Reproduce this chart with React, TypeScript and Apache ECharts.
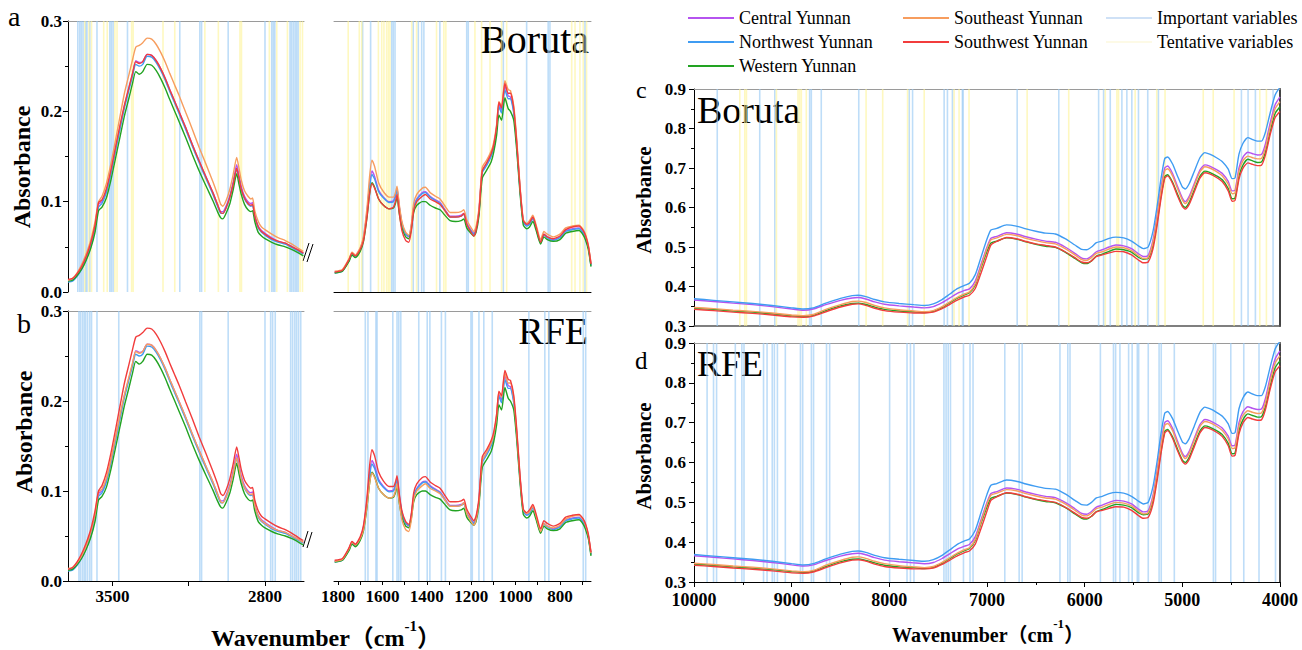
import React, { useEffect, useRef } from "react";
import * as echarts from "echarts";

// ---------- Wavenumber grids (cm-1) ----------
const WAVE_MIR_HIGH = [3704, 3683, 3663, 3642, 3621, 3600, 3580, 3564, 3548, 3528,
  3507, 3486, 3465, 3445, 3424, 3408, 3393, 3377, 3361, 3341,
  3320, 3299, 3278, 3257, 3237, 3216, 3195, 3164, 3133, 3102,
  3070, 3039, 3018, 3003, 2993, 2977, 2961, 2946, 2930, 2920,
  2909, 2894, 2878, 2865, 2857, 2847, 2831, 2816, 2800, 2769,
  2738, 2707, 2676, 2645, 2624];

const WAVE_MIR_LOW = [1815, 1780, 1750, 1737, 1722, 1700, 1685, 1669, 1658, 1647,
  1635, 1617, 1595, 1570, 1550, 1540, 1534, 1524, 1512, 1495,
  1481, 1470, 1459, 1445, 1420, 1406, 1385, 1361, 1340, 1315,
  1295, 1270, 1245, 1233, 1220, 1205, 1188, 1178, 1165, 1150,
  1130, 1110, 1098, 1085, 1075, 1063, 1048, 1033, 1023, 1008,
  995, 980, 965, 950, 937, 922, 907, 887, 872, 857,
  830, 800, 774, 744, 714, 695, 684, 672, 660];

const WAVE_NIR = [10000, 9800, 9600, 9400, 9200, 9000,
  8880, 8780, 8650, 8500,
  8380, 8320, 8250, 8150, 8050,
  7900, 7750, 7640, 7550, 7460,
  7380, 7300, 7230, 7180, 7120,
  7060, 7000, 6960, 6900, 6800,
  6700, 6600, 6500, 6400, 6300,
  6200, 6100, 6030, 5980, 5930,
  5880, 5820, 5750, 5680, 5600,
  5520, 5450, 5400, 5350, 5300,
  5260, 5220, 5180, 5150, 5100,
  5050, 5000, 4970, 4930, 4880,
  4820, 4770, 4720, 4650, 4590,
  4530, 4490, 4460, 4420, 4380,
  4330, 4280, 4230, 4190, 4150,
  4100, 4050, 4000];

// ---------- MIR 3700-2620 absorbance ----------
const CENTRAL_MIR_HIGH = [.013, .014, .019, .027, .038, .052, .072, .097, .100, .112,
  .133, .158, .183, .206, .226, .241, .256, .254, .255, .263,
  .262, .256, .247, .236, .224, .212, .200, .182, .163, .145,
  .127, .110, .097, .089, .089, .096, .107, .122, .141, .130,
  .117, .106, .100, .098, .099, .085, .073, .068, .065, .060,
  .056, .054, .050, .046, .043];
const NORTHWEST_MIR_HIGH = [.011, .012, .017, .025, .036, .050, .070, .094, .098, .110,
  .131, .156, .181, .204, .224, .239, .252, .250, .252, .261,
  .260, .254, .245, .234, .222, .210, .198, .180, .161, .143,
  .125, .108, .095, .087, .087, .094, .105, .119, .136, .126,
  .113, .103, .097, .095, .096, .083, .071, .066, .063, .058,
  .055, .053, .049, .045, .042];
const WESTERN_MIR_HIGH = [.012, .013, .018, .025, .035, .048, .066, .090, .094, .104,
  .124, .148, .172, .195, .215, .231, .244, .241, .244, .252,
  .251, .245, .236, .225, .213, .201, .189, .171, .152, .134,
  .117, .101, .089, .082, .081, .088, .098, .113, .131, .120,
  .108, .097, .091, .089, .090, .078, .066, .062, .059, .055,
  .052, .050, .047, .043, .040];
const SOUTHEAST_MIR_HIGH = [.013, .015, .021, .030, .042, .057, .078, .100, .106, .120,
  .142, .168, .195, .220, .241, .257, .271, .273, .276, .281,
  .280, .274, .265, .254, .242, .230, .218, .199, .180, .160,
  .141, .122, .108, .097, .095, .102, .114, .130, .149, .138,
  .124, .112, .106, .103, .104, .090, .078, .072, .069, .064,
  .060, .057, .053, .048, .045];
const SOUTHWEST_MIR_HIGH = [.014, .015, .020, .028, .039, .054, .074, .099, .102, .114,
  .135, .160, .185, .207, .227, .242, .255, .253, .255, .263,
  .262, .256, .247, .236, .224, .212, .200, .182, .163, .145,
  .127, .110, .097, .088, .087, .094, .105, .119, .137, .127,
  .114, .104, .098, .096, .097, .084, .072, .067, .064, .059,
  .056, .054, .050, .046, .043];

// ---------- MIR 1815-660 absorbance ----------
const CENTRAL_MIR_LOW = [.022, .024, .036, .043, .040, .048, .060, .090, .118, .134,
  .128, .113, .105, .100, .101, .108, .115, .095, .076, .064,
  .061, .072, .094, .103, .110, .111, .106, .102, .099, .090,
  .084, .084, .085, .087, .076, .070, .065, .070, .089, .134,
  .142, .152, .162, .182, .208, .201, .228, .217, .216, .200,
  .165, .115, .078, .074, .076, .082, .071, .055, .064, .061,
  .058, .061, .068, .070, .071, .066, .060, .050, .030];
const NORTHWEST_MIR_LOW = [.021, .023, .035, .042, .039, .047, .059, .088, .115, .130,
  .125, .111, .104, .099, .100, .107, .113, .094, .076, .064,
  .062, .072, .093, .102, .109, .110, .105, .101, .098, .089,
  .083, .083, .084, .086, .075, .069, .064, .069, .088, .132,
  .140, .150, .160, .180, .205, .198, .224, .214, .214, .198,
  .163, .113, .077, .073, .075, .081, .070, .054, .063, .060,
  .057, .060, .067, .069, .070, .065, .059, .049, .029];
const WESTERN_MIR_LOW = [.021, .023, .034, .041, .038, .045, .056, .083, .108, .121,
  .116, .103, .096, .092, .093, .099, .105, .087, .071, .061,
  .059, .069, .088, .096, .100, .100, .096, .093, .091, .084,
  .079, .078, .079, .081, .071, .066, .062, .066, .084, .126,
  .135, .144, .155, .174, .196, .190, .215, .203, .200, .190,
  .158, .110, .074, .070, .072, .078, .068, .053, .061, .058,
  .056, .058, .065, .067, .068, .063, .057, .047, .028];
const SOUTHEAST_MIR_LOW = [.023, .025, .037, .044, .041, .049, .062, .094, .127, .146,
  .139, .121, .111, .105, .105, .111, .117, .097, .078, .066,
  .063, .074, .098, .108, .115, .116, .110, .106, .103, .094,
  .088, .088, .089, .091, .080, .073, .067, .072, .092, .138,
  .146, .156, .166, .186, .211, .206, .234, .224, .223, .206,
  .170, .118, .080, .076, .079, .085, .074, .058, .067, .064,
  .061, .064, .071, .073, .074, .069, .063, .052, .032];
const SOUTHWEST_MIR_LOW = [.022, .024, .036, .043, .040, .047, .057, .084, .108, .120,
  .115, .103, .096, .092, .094, .101, .108, .088, .068, .057,
  .055, .067, .090, .100, .106, .108, .103, .100, .097, .089,
  .083, .083, .084, .087, .075, .068, .062, .068, .088, .134,
  .143, .153, .163, .184, .210, .204, .231, .220, .220, .203,
  .167, .116, .079, .075, .077, .083, .072, .055, .064, .061,
  .059, .062, .069, .072, .073, .068, .062, .051, .031];

// ---------- NIR 10000-4000 absorbance ----------
const CENTRAL_NIR = [.366, .362, .358, .354, .349, .343,
  .340, .343, .354, .365,
  .371, .372, .369, .361, .355,
  .351, .348, .346, .349, .359,
  .371, .383, .390, .394, .414,
  .457, .500, .522, .527, .536,
  .533, .526, .520, .515, .512,
  .500, .484, .472, .470, .477,
  .488, .493, .500, .505, .503,
  .496, .483, .476, .479, .518,
  .578, .647, .700, .705, .686,
  .654, .624, .615, .628, .659,
  .695, .708, .705, .696, .686,
  .666, .642, .644, .700, .727,
  .740, .736, .733, .734, .760,
  .815, .860, .880];
const NORTHWEST_NIR = [.369, .365, .361, .357, .352, .346,
  .343, .346, .358, .370,
  .377, .378, .375, .367, .361,
  .357, .354, .352, .356, .367,
  .381, .395, .403, .408, .430,
  .475, .520, .543, .547, .556,
  .553, .546, .540, .535, .533,
  .521, .505, .494, .493, .500,
  .511, .515, .522, .525, .523,
  .515, .503, .496, .500, .540,
  .600, .670, .724, .728, .710,
  .680, .652, .647, .660, .690,
  .726, .739, .735, .726, .716,
  .697, .673, .675, .735, .762,
  .777, .772, .768, .768, .790,
  .840, .885, .905];
const WESTERN_NIR = [.345, .342, .338, .335, .331, .326,
  .324, .327, .339, .351,
  .357, .358, .355, .348, .342,
  .338, .336, .334, .337, .347,
  .359, .371, .379, .384, .404,
  .448, .489, .510, .515, .523,
  .520, .513, .507, .502, .499,
  .487, .471, .460, .458, .465,
  .477, .482, .489, .495, .493,
  .487, .474, .469, .471, .505,
  .560, .627, .678, .683, .664,
  .634, .606, .600, .613, .643,
  .679, .692, .689, .680, .670,
  .648, .622, .624, .680, .707,
  .722, .718, .714, .715, .740,
  .793, .838, .855];
const SOUTHEAST_NIR = [.347, .344, .340, .337, .333, .328,
  .326, .329, .342, .354,
  .362, .363, .360, .352, .346,
  .341, .338, .336, .339, .349,
  .361, .373, .381, .386, .407,
  .452, .496, .518, .523, .532,
  .529, .522, .516, .511, .508,
  .496, .480, .468, .466, .473,
  .484, .488, .495, .500, .498,
  .491, .478, .471, .474, .512,
  .571, .640, .693, .698, .680,
  .648, .619, .610, .623, .654,
  .690, .703, .700, .691, .680,
  .659, .635, .637, .692, .718,
  .730, .726, .723, .724, .750,
  .805, .850, .868];
const SOUTHWEST_NIR = [.342, .339, .335, .332, .328, .323,
  .322, .325, .336, .348,
  .355, .356, .353, .345, .339,
  .335, .333, .333, .335, .344,
  .355, .366, .374, .378, .395,
  .435, .478, .505, .514, .524,
  .521, .514, .508, .504, .500,
  .488, .473, .462, .460, .465,
  .476, .480, .485, .489, .488,
  .480, .467, .460, .462, .496,
  .552, .620, .674, .680, .661,
  .630, .603, .596, .608, .638,
  .674, .688, .685, .676, .665,
  .642, .616, .618, .672, .699,
  .713, .709, .706, .707, .732,
  .785, .828, .843];

// ---------- Selected variables (cm-1) ----------
const BORUTA_IMPORTANT_MIR_HIGH = [3659, 3650, 3643, 3635, 3623, 3617, 3604, 3571, 3512, 3505, 3497, 3431, 3191, 3099, 3091, 2969, 2800, 2769, 2762, 2755, 2685, 2678, 2670, 2662, 2655, 2648];
const BORUTA_TENTATIVE_MIR_HIGH = [3627, 3608, 3596, 3540, 3524, 3489, 3479, 3412, 3405, 3268, 3214, 3076, 3014, 2915, 2908, 2780, 2746, 2697, 2639, 2628];
const BORUTA_IMPORTANT_MIR_LOW = [1689, 1653, 1558, 1551, 1543, 1461, 1438, 1423, 1413, 1341, 1220, 1213, 1055, 950, 853, 845, 687];
const BORUTA_TENTATIVE_MIR_LOW = [1754, 1704, 1693, 1618, 1603, 1593, 1581, 1573, 1566, 1468, 1446, 1356, 1323, 1314, 1183, 1153, 1115, 1063, 1040, 747, 732, 710, 695, 680];
const RFE_IMPORTANT_MIR_HIGH = [3654, 3647, 3638, 3630, 3623, 3614, 3604, 3596, 3571, 3471, 3099, 3091, 2969, 2800, 2774, 2765, 2753, 2682, 2673, 2663, 2655, 2646, 2636];
const RFE_IMPORTANT_MIR_LOW = [1677, 1665, 1629, 1624, 1553, 1534, 1526, 1517, 1436, 1398, 1386, 1334, 1316, 1201, 1195, 1165, 1143, 1105, 940, 868, 850, 695, 684];
const BORUTA_IMPORTANT_NIR = [9762, 9327, 9173, 8816, 8799, 8697, 8313, 7796, 7762, 7439, 7405, 7354, 7252, 7245, 6691, 6265, 5857, 5806, 5738, 5619, 5568, 5517, 5449, 5354, 5245, 4395, 4327, 4252, 4071];
const BORUTA_TENTATIVE_NIR = [9531, 9480, 9463, 9156, 8935, 8918, 8901, 8850, 8238, 8068, 7813, 7643, 7337, 7286, 7184, 6589, 6163, 5789, 5670, 5653, 5483, 5262, 5177, 4786, 4684, 4470, 4207, 4139];
const RFE_IMPORTANT_NIR = [9866, 9800, 9769, 9577, 9510, 9488, 9288, 9252, 9199, 9177, 9146, 9065, 8910, 8887, 8798, 8776, 8643, 8611, 8309, 7997, 7819, 7784, 7748, 7441, 7419, 7397, 7374, 7241, 7174, 7143, 6818, 6671, 6640, 6253, 6173, 6150, 5839, 5705, 5683, 5639, 5550, 5514, 5461, 5447, 5349, 5238, 5216, 5082, 4682, 4660, 4504, 4371, 4215, 4046];

// ---------- Tick labels ----------
const X_LABELS_MIR_HIGH = [3500, 2800];
const X_TICKS_MIR_HIGH = [3500, 3150, 2800];
const X_LABELS_MIR_LOW = [1800, 1600, 1400, 1200, 1000, 800];
const X_TICKS_MIR_LOW = [1800, 1700, 1600, 1500, 1400, 1300, 1200, 1100, 1000, 900, 800, 700];

const GROUP_NAMES = ["Central Yunnan", "Northwest Yunnan", "Western Yunnan", "Southeast Yunnan", "Southwest Yunnan"];
const LEGEND_VARS = ["Important variables", "Tentative variables"];

const FONT = '"Liberation Serif", "Noto Sans CJK SC", serif';
const COLORS: Record<string, string> = {
  "Central Yunnan": "#b553ef",
  "Northwest Yunnan": "#3f9cf2",
  "Western Yunnan": "#22a322",
  "Southeast Yunnan": "#f79d5e",
  "Southwest Yunnan": "#f23c3c",
};
const IMP_COLOR = "rgba(155,203,244,0.65)";
const TEN_COLOR = "rgba(253,244,150,0.6)";

function spectra(grid: number, wave: number[], rows: [string, number[]][]) {
  return rows.map(([name, vals]) => ({
    type: "line",
    name,
    xAxisIndex: grid,
    yAxisIndex: grid,
    data: wave.map((w, i) => [w, vals[i]]),
    symbol: "none",
    smooth: 0.2,
    silent: true,
    z: 3,
    lineStyle: { width: 1.4, color: COLORS[name] },
    itemStyle: { color: COLORS[name] },
  }));
}

function varLines(name: string, grid: number, positions: number[], color: string, yMin: number, yMax: number) {
  return {
    type: "custom",
    name,
    xAxisIndex: grid,
    yAxisIndex: grid,
    silent: true,
    z: 1,
    itemStyle: { color },
    data: positions.map((p) => [p, yMin]),
    renderItem: (_params: any, api: any) => {
      const x = api.value(0);
      const top = api.coord([x, yMax]);
      const bot = api.coord([x, yMin]);
      return {
        type: "line",
        shape: { x1: top[0], y1: top[1], x2: bot[0], y2: bot[1] },
        style: { stroke: color, lineWidth: 1.6 },
      };
    },
  };
}

const AXIS_BLACK = { color: "#000", width: 1 };

function yAxisMain(grid: number, min: number, max: number, fontSize: number, margin: number) {
  return {
    gridIndex: grid,
    type: "value",
    position: "left",
    min,
    max,
    interval: 0.1,
    axisLine: { show: true, onZero: false, lineStyle: AXIS_BLACK },
    axisTick: { show: true, length: 5, lineStyle: AXIS_BLACK },
    minorTick: { show: true, splitNumber: 2, length: 3, lineStyle: AXIS_BLACK },
    axisLabel: {
      formatter: (v: number) => v.toFixed(1),
      fontFamily: FONT,
      fontWeight: "bold",
      fontSize,
      color: "#000",
      margin,
    },
    splitLine: { show: false },
    minorSplitLine: { show: false },
  };
}

function topAxis(grid: number, min: number, max: number) {
  return {
    gridIndex: grid,
    type: "value",
    position: "top",
    min,
    max,
    inverse: true,
    axisLine: { show: true, onZero: false, lineStyle: { color: "#9a9a9a", width: 1 } },
    axisTick: { show: false },
    axisLabel: { show: false },
    splitLine: { show: false },
  };
}

function wavenumberTitle(x: number, y: number, size: number, supSize: number) {
  return {
    type: "text",
    x,
    y,
    style: {
      text: "{b|Wavenumber（cm}{s|-1}{b|）}",
      fill: "#000",
      align: "center",
      verticalAlign: "middle",
      rich: {
        b: { fontFamily: FONT, fontWeight: "bold", fontSize: size, lineHeight: size + 8, verticalAlign: "bottom", fill: "#000" },
        s: { fontFamily: FONT, fontWeight: "bold", fontSize: supSize, lineHeight: supSize, verticalAlign: "top", fill: "#000" },
      },
    },
  };
}

export default function App() {
  const ref = useRef<HTMLDivElement>(null);

  useEffect(() => {
    if (!ref.current) return;
    const chart = echarts.init(ref.current, null, { renderer: "svg" });

    const highRowsA: [string, number[]][] = [
      ["Central Yunnan", CENTRAL_MIR_HIGH],
      ["Northwest Yunnan", NORTHWEST_MIR_HIGH],
      ["Western Yunnan", WESTERN_MIR_HIGH],
      ["Southeast Yunnan", SOUTHEAST_MIR_HIGH],
      ["Southwest Yunnan", SOUTHWEST_MIR_HIGH],
    ];
    const lowRowsA: [string, number[]][] = [
      ["Central Yunnan", CENTRAL_MIR_LOW],
      ["Northwest Yunnan", NORTHWEST_MIR_LOW],
      ["Western Yunnan", WESTERN_MIR_LOW],
      ["Southeast Yunnan", SOUTHEAST_MIR_LOW],
      ["Southwest Yunnan", SOUTHWEST_MIR_LOW],
    ];
    // panel b of the source figure draws the south-eastern / south-western traces with swapped colours
    const highRowsB: [string, number[]][] = [
      ["Central Yunnan", CENTRAL_MIR_HIGH],
      ["Northwest Yunnan", NORTHWEST_MIR_HIGH],
      ["Western Yunnan", WESTERN_MIR_HIGH],
      ["Southeast Yunnan", SOUTHWEST_MIR_HIGH],
      ["Southwest Yunnan", SOUTHEAST_MIR_HIGH],
    ];
    const lowRowsB: [string, number[]][] = [
      ["Central Yunnan", CENTRAL_MIR_LOW],
      ["Northwest Yunnan", NORTHWEST_MIR_LOW],
      ["Western Yunnan", WESTERN_MIR_LOW],
      ["Southeast Yunnan", SOUTHWEST_MIR_LOW],
      ["Southwest Yunnan", SOUTHEAST_MIR_LOW],
    ];
    const nirRows: [string, number[]][] = [
      ["Central Yunnan", CENTRAL_NIR],
      ["Northwest Yunnan", NORTHWEST_NIR],
      ["Western Yunnan", WESTERN_NIR],
      ["Southeast Yunnan", SOUTHEAST_NIR],
      ["Southwest Yunnan", SOUTHWEST_NIR],
    ];

    const HMIN = 2621, HMAX = 3704, LMIN = 660, LMAX = 1818, NMIN = 4000, NMAX = 10000;

    const xLabelStyle = (size: number, margin: number) => ({
      fontFamily: FONT,
      fontWeight: "bold",
      fontSize: size,
      color: "#000",
      margin,
      formatter: (v: number) => String(Math.round(v)),
    });

    const legendBase = {
      orient: "vertical",
      top: 4,
      icon: "rect",
      itemWidth: 46,
      itemHeight: 2,
      itemGap: 6,
      selectedMode: false,
      textStyle: { fontFamily: FONT, fontSize: 18, color: "#000", lineHeight: 18 },
    };

    const option: any = {
      animation: false,
      backgroundColor: "#fff",
      grid: [
        { left: 68, top: 21, width: 236, height: 271 },
        { left: 334, top: 21, width: 257, height: 271 },
        { left: 68, top: 311, width: 236, height: 270 },
        { left: 334, top: 311, width: 257, height: 270 },
        { left: 694, top: 89, width: 586, height: 237 },
        { left: 694, top: 343, width: 586, height: 239 },
      ],
      legend: [
        { ...legendBase, left: 683, data: GROUP_NAMES.slice(0, 3) },
        { ...legendBase, left: 898, data: GROUP_NAMES.slice(3, 5) },
        {
          ...legendBase,
          left: 1101,
          data: [
            { name: LEGEND_VARS[0], itemStyle: { color: "#cfe1f6" } },
            { name: LEGEND_VARS[1], itemStyle: { color: "#fdfae6" } },
          ],
        },
      ],
      xAxis: [
        {
          gridIndex: 0, type: "value", position: "bottom", min: HMIN, max: HMAX, inverse: true,
          axisLine: { show: false }, axisTick: { show: false }, axisLabel: { show: false }, splitLine: { show: false },
        },
        {
          gridIndex: 1, type: "value", position: "bottom", min: LMIN, max: LMAX, inverse: true,
          axisLine: { show: true, onZero: false, lineStyle: AXIS_BLACK }, axisTick: { show: false },
          axisLabel: { show: false }, splitLine: { show: false },
        },
        {
          gridIndex: 2, type: "value", position: "bottom", min: HMIN, max: HMAX, inverse: true,
          axisLine: { show: true, onZero: false, lineStyle: AXIS_BLACK },
          axisTick: { show: true, length: 5, customValues: X_TICKS_MIR_HIGH, lineStyle: AXIS_BLACK },
          axisLabel: { ...xLabelStyle(17, 7), customValues: X_LABELS_MIR_HIGH },
          splitLine: { show: false },
        },
        {
          gridIndex: 3, type: "value", position: "bottom", min: LMIN, max: LMAX, inverse: true,
          axisLine: { show: true, onZero: false, lineStyle: AXIS_BLACK },
          axisTick: { show: true, length: 4, customValues: X_TICKS_MIR_LOW, lineStyle: AXIS_BLACK },
          axisLabel: { ...xLabelStyle(17, 7), customValues: X_LABELS_MIR_LOW },
          splitLine: { show: false },
        },
        {
          gridIndex: 4, type: "value", position: "bottom", min: NMIN, max: NMAX, interval: 1000, inverse: true,
          axisLine: { show: true, onZero: false, lineStyle: { color: "#555", width: 1.5 } },
          axisTick: { show: false }, axisLabel: { show: false }, splitLine: { show: false },
        },
        {
          gridIndex: 5, type: "value", position: "bottom", min: NMIN, max: NMAX, interval: 1000, inverse: true,
          axisLine: { show: true, onZero: false, lineStyle: AXIS_BLACK },
          axisTick: { show: true, length: 5, lineStyle: AXIS_BLACK },
          minorTick: { show: true, splitNumber: 2, length: 3, lineStyle: AXIS_BLACK },
          axisLabel: xLabelStyle(18, 9),
          splitLine: { show: false }, minorSplitLine: { show: false },
        },
        topAxis(0, HMIN, HMAX),
        topAxis(1, LMIN, LMAX),
        topAxis(2, HMIN, HMAX),
        topAxis(3, LMIN, LMAX),
        topAxis(4, NMIN, NMAX),
        topAxis(5, NMIN, NMAX),
      ],
      yAxis: [
        yAxisMain(0, 0, 0.3, 17, 6),
        { gridIndex: 1, type: "value", min: 0, max: 0.3, show: false },
        yAxisMain(2, 0, 0.3, 17, 6),
        { gridIndex: 3, type: "value", min: 0, max: 0.3, show: false },
        yAxisMain(4, 0.3, 0.9, 17, 8),
        yAxisMain(5, 0.3, 0.9, 17, 8),
        {
          gridIndex: 4, type: "value", position: "right", min: 0.3, max: 0.9,
          axisLine: { show: true, onZero: false, lineStyle: { color: "#444", width: 2 } },
          axisTick: { show: false }, axisLabel: { show: false }, splitLine: { show: false },
        },
        {
          gridIndex: 5, type: "value", position: "right", min: 0.3, max: 0.9,
          axisLine: { show: true, onZero: false, lineStyle: { color: "#444", width: 2 } },
          axisTick: { show: false }, axisLabel: { show: false }, splitLine: { show: false },
        },
      ],
      series: [
        ...spectra(0, WAVE_MIR_HIGH, highRowsA),
        ...spectra(1, WAVE_MIR_LOW, lowRowsA),
        ...spectra(2, WAVE_MIR_HIGH, highRowsB),
        ...spectra(3, WAVE_MIR_LOW, lowRowsB),
        ...spectra(4, WAVE_NIR, nirRows),
        ...spectra(5, WAVE_NIR, nirRows),
        varLines(LEGEND_VARS[0], 0, BORUTA_IMPORTANT_MIR_HIGH, IMP_COLOR, 0, 0.3),
        varLines(LEGEND_VARS[1], 0, BORUTA_TENTATIVE_MIR_HIGH, TEN_COLOR, 0, 0.3),
        varLines(LEGEND_VARS[0], 1, BORUTA_IMPORTANT_MIR_LOW, IMP_COLOR, 0, 0.3),
        varLines(LEGEND_VARS[1], 1, BORUTA_TENTATIVE_MIR_LOW, TEN_COLOR, 0, 0.3),
        varLines(LEGEND_VARS[0], 2, RFE_IMPORTANT_MIR_HIGH, IMP_COLOR, 0, 0.3),
        varLines(LEGEND_VARS[0], 3, RFE_IMPORTANT_MIR_LOW, IMP_COLOR, 0, 0.3),
        varLines(LEGEND_VARS[0], 4, BORUTA_IMPORTANT_NIR, IMP_COLOR, 0.3, 0.9),
        varLines(LEGEND_VARS[1], 4, BORUTA_TENTATIVE_NIR, TEN_COLOR, 0.3, 0.9),
        varLines(LEGEND_VARS[0], 5, RFE_IMPORTANT_NIR, IMP_COLOR, 0.3, 0.9),
      ],
      graphic: [
        { type: "text", x: 8, y: 16, style: { text: "a", fontFamily: FONT, fontSize: 28, fill: "#000", align: "left", verticalAlign: "middle" } },
        { type: "text", x: 17, y: 323, style: { text: "b", fontFamily: FONT, fontSize: 28, fill: "#000", align: "left", verticalAlign: "middle" } },
        { type: "text", x: 636, y: 90, style: { text: "c", fontFamily: FONT, fontSize: 24, fill: "#000", align: "left", verticalAlign: "middle" } },
        { type: "text", x: 635, y: 360, style: { text: "d", fontFamily: FONT, fontSize: 25, fill: "#000", align: "left", verticalAlign: "middle" } },
        { type: "text", x: 589, y: 39, style: { text: "Boruta", fontFamily: FONT, fontSize: 40, fill: "#000", align: "right", verticalAlign: "middle" } },
        { type: "text", x: 588, y: 331, style: { text: "RFE", fontFamily: FONT, fontSize: 38, fill: "#000", align: "right", verticalAlign: "middle" } },
        { type: "text", x: 697, y: 110, style: { text: "Boruta", fontFamily: FONT, fontSize: 38, fill: "#000", align: "left", verticalAlign: "middle" } },
        { type: "text", x: 697, y: 364, style: { text: "RFE", fontFamily: FONT, fontSize: 36, fill: "#000", align: "left", verticalAlign: "middle" } },
        { type: "text", x: 22, y: 167, rotation: Math.PI / 2, style: { text: "Absorbance", fontFamily: FONT, fontWeight: "bold", fontSize: 24, fill: "#000", align: "center", verticalAlign: "middle" } },
        { type: "text", x: 24, y: 432, rotation: Math.PI / 2, style: { text: "Absorbance", fontFamily: FONT, fontWeight: "bold", fontSize: 24, fill: "#000", align: "center", verticalAlign: "middle" } },
        { type: "text", x: 644, y: 200, rotation: Math.PI / 2, style: { text: "Absorbance", fontFamily: FONT, fontWeight: "bold", fontSize: 21, fill: "#000", align: "center", verticalAlign: "middle" } },
        { type: "text", x: 644, y: 456, rotation: Math.PI / 2, style: { text: "Absorbance", fontFamily: FONT, fontWeight: "bold", fontSize: 21, fill: "#000", align: "center", verticalAlign: "middle" } },
        wavenumberTitle(326, 634, 24, 15),
        wavenumberTitle(988, 631, 20, 13),
        { type: "line", shape: { x1: 303, y1: 261, x2: 309, y2: 243 }, style: { stroke: "#000", lineWidth: 1 } },
        { type: "line", shape: { x1: 307, y1: 262, x2: 313, y2: 244 }, style: { stroke: "#000", lineWidth: 1 } },
        { type: "line", shape: { x1: 303, y1: 547, x2: 308, y2: 531 }, style: { stroke: "#000", lineWidth: 1 } },
        { type: "line", shape: { x1: 307, y1: 548, x2: 312, y2: 532 }, style: { stroke: "#000", lineWidth: 1 } },
      ],
    };

    chart.setOption(option);
    return () => chart.dispose();
  }, []);

  return (
    <div
      ref={ref}
      style={{ position: "fixed", left: 0, top: 0, width: 1302, height: 650, background: "#fff" }}
    />
  );
}
